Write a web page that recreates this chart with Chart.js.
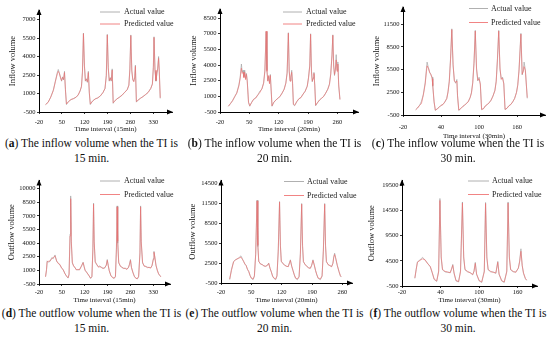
<!DOCTYPE html>
<html><head><meta charset="utf-8">
<script src="https://cdn.jsdelivr.net/npm/chart.js@4.4.1/dist/chart.umd.min.js"></script>
<style>
html,body{margin:0;padding:0;background:#fff;}
body{width:550px;height:340px;position:relative;overflow:hidden;font-family:"Liberation Serif","Times New Roman",serif;}
canvas{position:absolute;}
.cap{position:absolute;font-size:11.5px;line-height:15px;text-align:center;white-space:nowrap;color:#111;}
</style></head><body>
<canvas id="ca" width="183" height="135" style="left:0px;top:0px"></canvas>
<canvas id="cb" width="183" height="135" style="left:183px;top:0px"></canvas>
<canvas id="cc" width="184" height="141" style="left:366px;top:0px"></canvas>
<canvas id="cd" width="183" height="130" style="left:0px;top:175px"></canvas>
<canvas id="ce" width="183" height="130" style="left:183px;top:175px"></canvas>
<canvas id="cf" width="184" height="130" style="left:366px;top:175px"></canvas>
<div class="cap" style="left:0px;top:136px;width:183px">(<b>a</b>) The inflow volume when the TI is<br>15 min.</div>
<div class="cap" style="left:183px;top:136px;width:183px">(<b>b</b>) The inflow volume when the TI is<br>20 min.</div>
<div class="cap" style="left:366px;top:136px;width:184px">(<b>c</b>) The inflow volume when the TI is<br>30 min.</div>
<div class="cap" style="left:0px;top:306px;width:183px">(<b>d</b>) The outflow volume when the TI is<br>15 min.</div>
<div class="cap" style="left:183px;top:306px;width:183px">(<b>e</b>) The outflow volume when the TI is<br>20 min.</div>
<div class="cap" style="left:366px;top:306px;width:184px">(<b>f</b>) The outflow volume when the TI is<br>30 min.</div>
<script>
const SERIES_NAMES = ['Actual value', 'Predicted value'];

// (a) inflow, 15 min
const tA = [0,8,16,24,30,36,39,42,46,49,52,55,58,61,64,70,78,86,94,100,106,110,113,116,119,122,125,128,131,134,137,144,152,160,168,176,182,186,189,192,195,198,201,204,207,210,218,226,234,242,250,255,258,261,264,267,270,273,275,278,282,290,298,306,314,322,327,330,332,335,338,341,343,346,348,351];
const actualA = [100,300,700,1300,2000,2700,2950,2700,2300,2000,2350,2100,2800,1200,100,350,500,600,700,900,1200,1600,2800,5900,3200,2000,2200,1900,2800,1000,100,400,550,650,800,1100,1400,2500,5800,3000,2000,2300,2000,3000,200,350,550,700,850,1100,1300,1700,3000,5750,2800,2100,2000,2300,3300,300,450,600,750,900,1100,1400,1800,3200,5600,2800,2000,2700,3000,4000,2800,600];
const predA = [100,280,720,1250,1950,2600,2800,2650,2250,2050,2300,2150,2700,1300,150,330,520,580,720,880,1250,1550,2700,5850,3300,2050,2150,1950,2700,1100,150,380,570,640,820,1080,1420,2450,5750,3100,2050,2250,2050,2900,250,330,560,690,870,1080,1320,1650,2900,5700,2900,2150,1950,2350,3200,350,430,610,740,920,1080,1420,1750,3100,5550,2900,2050,2650,2900,3850,2900,650];

// (b) inflow, 20 min
const tB = [0,5,10,15,20,25,28,31,33,35,37,39,41,43,45,48,51,55,60,65,70,75,80,84,87,90,92,94,96,98,100,102,104,108,113,118,123,128,133,137,140,143,145,147,149,151,153,155,158,163,168,173,178,183,188,191,194,196,198,200,202,204,206,208,212,217,222,227,232,237,241,244,247,249,251,253,255,257,259,261,263,266];
const actualB = [50,300,600,950,1350,2100,2800,4100,3300,3500,2900,3500,2700,3200,2500,400,50,400,700,850,1100,1500,1700,2300,3500,7200,3500,2500,2900,2300,3100,1500,50,400,650,800,1000,1300,1700,2300,3300,7100,3500,2500,2800,3500,2300,200,100,500,750,900,1200,1500,2000,2800,4000,7000,3500,2400,2800,3300,2100,100,350,650,800,1000,1300,1700,2200,3200,5000,6900,4000,3000,3600,5000,3500,4300,2000,700];
const predB = [50,320,580,980,1300,2000,2700,3700,3200,3300,2800,3300,2600,3100,2400,450,100,380,720,830,1150,1350,1750,2250,3400,7250,3400,2450,3000,2200,3000,1600,100,420,630,820,980,1320,1680,2250,3200,7050,3400,2450,2900,3300,2200,250,150,480,770,880,1220,1480,1950,2750,3900,6950,3400,2450,2700,3200,2000,150,380,630,820,980,1320,1680,2150,3100,4900,6850,3900,3100,3500,4500,3400,4100,2100,700];

// (c) inflow, 30 min
const tC = [0,3,6,9,12,15,17,18,20,22,24,26,27,29,31,34,37,40,43,46,49,51,53,55,57,59,61,63,65,66,68,71,74,77,80,83,86,88,90,92,94,96,98,100,102,104,107,110,113,116,119,122,125,127,129,131,133,135,137,139,141,144,147,150,153,156,159,161,163,166,168,170,171,173,176];
const actualC = [200,450,750,1300,2200,3800,5600,6500,5800,5200,4800,4500,3300,1200,100,300,550,750,900,1200,1700,2600,4000,7000,10900,6000,4100,3700,4200,2000,100,350,600,800,1000,1300,1800,2500,3800,6500,10700,5500,4000,4500,3500,200,350,700,900,1100,1500,2000,2800,4000,7000,10700,5500,4300,4500,3700,200,400,700,900,1200,1700,2500,3500,5500,10300,4800,5500,6500,5500,1700];
const predC = [200,420,780,1000,2100,3600,5300,6000,5700,5100,4900,4300,3400,1300,150,320,520,780,880,1250,1650,2500,3900,6800,10800,6200,4000,3800,4000,2100,150,330,620,780,1050,1250,1850,2400,3700,6300,10600,5700,4100,4300,3600,250,330,720,880,1150,1450,2050,2700,3900,6800,10600,5700,4200,4400,3600,250,380,720,880,1250,1650,2450,3400,5300,10200,4900,5300,5900,5400,1800];

// (d) outflow, 15 min
const tD = [0,3,5,9,14,19,24,29,34,39,44,49,54,59,64,69,72,75,77,79,82,86,90,94,99,104,110,115,118,121,127,132,138,142,145,147,149,152,157,162,166,171,176,181,186,189,192,195,200,205,210,214,217,219,221,224,229,234,239,244,249,254,257,260,263,267,272,277,281,285,289,291,293,297,302,307,312,317,322,326,330,332,335,338,342,346,350,353];
const actualD = [300,1000,2050,1900,2000,2400,2300,2700,2000,1800,1600,1300,1050,700,350,150,500,5000,9200,4000,1800,1500,1300,1100,1050,1100,1450,1900,1400,1050,700,500,100,300,3500,8400,4000,2000,1600,1400,1500,1300,1250,1250,1600,2200,1500,1000,400,250,100,300,3500,8100,4000,1800,1500,1300,1250,1200,1150,1300,1700,2200,1300,850,300,150,50,300,3000,8100,4000,1800,1500,1400,1350,1300,1300,1500,2300,3100,2300,1600,1000,650,400,300];
const predD = [300,1100,1950,2000,2050,2300,2400,2600,2050,1750,1650,1250,1100,650,400,200,600,4800,8900,4200,1900,1450,1350,1050,1100,1050,1500,1850,1450,1000,750,450,150,350,3300,8300,4200,1900,1650,1350,1400,1350,1200,1300,1550,2100,1550,950,450,200,150,350,3300,8000,4200,1900,1450,1350,1200,1250,1100,1350,1650,2100,1350,800,350,100,100,350,2800,8000,4200,1900,1450,1450,1300,1350,1250,1550,2200,3000,2400,1550,1050,600,450,300];

// (e) outflow, 20 min
const tE = [0,4,9,13,17,21,26,29,32,35,38,41,44,47,50,54,57,60,63,65,67,71,75,79,83,87,90,93,96,99,102,106,109,112,115,117,119,123,127,131,135,138,140,143,146,149,152,156,160,163,166,168,170,174,178,182,186,189,192,195,198,201,204,209,213,216,219,221,223,227,231,235,238,240,242,244,248,252,255,257];
const actualE = [0,1500,2750,3000,3100,3300,3600,3200,2750,2400,2100,1600,1200,600,200,0,500,4000,12000,5000,2750,2400,2250,2100,2000,2200,2500,1700,1200,500,200,0,500,4500,11800,5000,2800,2400,2200,2000,2000,2600,3000,2000,1400,700,200,0,400,4000,11500,5000,2700,2300,2000,1800,1700,2200,3000,2200,1400,700,200,0,500,4500,11500,5000,2700,2300,2100,2000,2500,3500,4000,3300,2200,1200,600,400];
const predE = [100,1400,2700,2950,3150,3250,3400,3100,2800,2350,2150,1550,1250,650,250,100,600,3800,11900,5200,2800,2350,2300,2050,2050,2150,2450,1750,1150,550,250,100,600,4300,11700,5200,2750,2450,2150,2050,1950,2550,2900,2050,1350,750,250,100,500,3800,11400,5200,2750,2250,2050,1750,1750,2150,2900,2250,1350,750,250,100,600,4300,11400,5200,2750,2250,2150,1950,2450,3400,3800,3400,2150,1250,650,450];

// (f) outflow, 30 min
const tF = [0,2,4,8,12,16,20,24,27,30,34,37,39,41,43,47,51,55,57,59,61,64,68,71,74,76,78,82,86,90,92,94,96,100,104,108,110,112,114,118,122,126,129,131,135,139,143,145,147,149,153,157,161,163,165,167,169,172,174];
const actualF = [1000,2800,4300,4700,5200,4600,4000,3300,2100,800,400,2500,16900,5000,2700,2300,2200,2200,2800,3800,2000,500,300,2500,16200,5000,2700,2300,2200,1700,2500,4200,1800,500,200,2500,16100,5000,2700,2300,2300,2000,4400,1800,500,200,2500,16200,5000,2700,2300,2300,3000,4500,6900,3500,2000,900,600];
const predF = [1100,2700,4200,4600,4900,4700,3900,3400,2200,900,500,2300,16500,5300,2800,2400,2300,2100,2900,3600,2100,600,400,2300,16000,5300,2800,2400,2100,1800,2400,4000,1900,600,300,2300,15900,5300,2800,2400,2200,2100,4200,1900,600,300,2300,16000,5300,2800,2400,2200,3100,4300,6400,3600,2100,1000,700];

// tick labels
const xTicks15 = [-20,50,120,190,260,330];
const xTicks20 = [-20,50,120,190,260];
const xTicks30 = [-20,40,100,160];
const yTicksA = [-500,1000,2500,4000,5500,7000];
const yTicksB = [-500,1000,2500,4000,5500,7000,8500];
const yTicksC = [-500,2500,5500,8500,11500];
const yTicksD = [-500,1000,2500,4000,5500,7000,8500,10000];
const yTicksE = [-500,2500,5500,8500,11500,14500];
const yTicksF = [-500,4500,9500,14500,19500];

const FONT = "'Liberation Serif', 'Times New Roman', serif";
const ACT_COLOR = 'rgba(150,150,150,0.75)';
const PRED_COLOR = 'rgba(238,110,110,0.85)';

const decor = {
  id: 'decor',
  afterDraw(chart, args, o) {
    const ctx = chart.ctx, a = chart.chartArea;
    ctx.save();
    ctx.fillStyle = '#000';
    ctx.beginPath();
    ctx.moveTo(a.left, a.top - 1); ctx.lineTo(a.left - 2.5, a.top + 5); ctx.lineTo(a.left + 2.5, a.top + 5);
    ctx.closePath(); ctx.fill();
    ctx.beginPath();
    ctx.moveTo(a.right + 1, a.bottom); ctx.lineTo(a.right - 5, a.bottom - 2.5); ctx.lineTo(a.right - 5, a.bottom + 2.5);
    ctx.closePath(); ctx.fill();
    ctx.font = '8px ' + FONT;
    ctx.textBaseline = 'middle';
    ctx.textAlign = 'left';
    chart.data.datasets.forEach((ds, i) => {
      const y = o.ys[i];
      ctx.strokeStyle = ds.borderColor; ctx.lineWidth = 1;
      ctx.beginPath(); ctx.moveTo(o.x0, y); ctx.lineTo(o.x1, y); ctx.stroke();
      ctx.fillStyle = '#222';
      ctx.fillText(ds.label, o.tx, y);
    });
    ctx.restore();
  }
};

function build(id, p) {
  const mk = vals => p.t.map((t, i) => ({x: t, y: vals[i]}));
  new Chart(document.getElementById(id), {
    type: 'line',
    data: {datasets: [
      {label: SERIES_NAMES[0], data: mk(p.actual), borderColor: ACT_COLOR, borderWidth: 0.75, pointRadius: 0, tension: 0, order: 1},
      {label: SERIES_NAMES[1], data: mk(p.pred), borderColor: PRED_COLOR, borderWidth: 0.75, pointRadius: 0, tension: 0, order: 0}
    ]},
    options: {
      responsive: false, animation: false, devicePixelRatio: 1,
      layout: {padding: {left: 0, top: p.padTop, right: p.padRight, bottom: 0}},
      plugins: {legend: {display: false}, tooltip: {enabled: false}, decor: p.legend},
      scales: {
        x: {
          type: 'linear', min: p.xMin, max: p.xMax,
          afterBuildTicks: s => { s.ticks = p.xTicks.map(v => ({value: v})); },
          afterFit: s => { s.height = p.xH; },
          ticks: {font: {family: FONT, size: 6.5}, color: '#111', padding: p.xTickPad, maxRotation: 0, autoSkip: false, callback: v => String(v)},
          grid: {display: true, drawOnChartArea: false, drawTicks: true, tickLength: 2, color: '#000', lineWidth: 0.8},
          border: {display: true, color: '#000', width: 1},
          title: {display: true, text: p.xTitle, font: {family: FONT, size: 7}, color: '#111', padding: {top: 0, bottom: p.xTitlePad}}
        },
        y: {
          type: 'linear', min: -500, max: p.yMax,
          afterBuildTicks: s => { s.ticks = p.yTicks.map(v => ({value: v})); },
          afterFit: s => { s.width = p.yW; },
          ticks: {font: {family: FONT, size: 6.5}, color: '#111', padding: 1.5, autoSkip: false, callback: v => String(v)},
          grid: {display: true, drawOnChartArea: false, drawTicks: true, tickLength: 2, color: '#000', lineWidth: 0.8},
          border: {display: true, color: '#000', width: 1},
          title: {display: true, text: p.yTitle, font: {family: FONT, size: 8.5}, color: '#111', padding: {top: p.yTitlePad, bottom: 0}}
        }
      }
    },
    plugins: [decor]
  });
}

build('ca', {t: tA, actual: actualA, pred: predA, xTicks: xTicks15, yTicks: yTicksA, xMin: -20, xMax: 387, yMax: 7772,
  padTop: 10, padRight: 11, yW: 39, xH: 23, xTickPad: 4, xTitlePad: 1.5, yTitlePad: 8,
  yTitle: 'Inflow volume', xTitle: 'Time interval (15min)', legend: {x0: 100, x1: 120, tx: 124, ys: [12, 24]}});
build('cb', {t: tB, actual: actualB, pred: predB, xTicks: xTicks20, yTicks: yTicksB, xMin: -20, xMax: 309, yMax: 9375,
  padTop: 9, padRight: 8, yW: 37, xH: 23, xTickPad: 4, xTitlePad: 1.5, yTitlePad: 5.5,
  yTitle: 'Inflow volume', xTitle: 'Time interval (20min)', legend: {x0: 100, x1: 119, tx: 123, ys: [12, 24]}});
build('cc', {t: tC, actual: actualC, pred: predC, xTicks: xTicks30, yTicks: yTicksC, xMin: -20, xMax: 204, yMax: 13786,
  padTop: 7, padRight: 5, yW: 37, xH: 26, xTickPad: 6, xTitlePad: 0.5, yTitlePad: 6,
  yTitle: 'Inflow volume', xTitle: 'Time interval (30min)', legend: {x0: 103, x1: 122, tx: 125, ys: [8.5, 22.5]}});
build('cd', {t: tD, actual: actualD, pred: predD, xTicks: xTicks15, yTicks: yTicksD, xMin: -20, xMax: 381, yMax: 10911,
  padTop: 5, padRight: 13, yW: 39, xH: 21, xTickPad: 2, xTitlePad: 0.8, yTitlePad: 7,
  yTitle: 'Outflow volume', xTitle: 'Time interval (15min)', legend: {x0: 100, x1: 120, tx: 124, ys: [6, 19.5]}});
build('ce', {t: tE, actual: actualE, pred: predE, xTicks: xTicks20, yTicks: yTicksE, xMin: -20, xMax: 282, yMax: 14987,
  padTop: 5, padRight: 14, yW: 38, xH: 22, xTickPad: 3, xTitlePad: 0.8, yTitlePad: 5,
  yTitle: 'Outflow volume', xTitle: 'Time interval (20min)', legend: {x0: 101, x1: 121, tx: 124, ys: [6.5, 20.5]}});
build('cf', {t: tF, actual: actualF, pred: predF, xTicks: xTicks30, yTicks: yTicksF, xMin: -20, xMax: 190, yMax: 20490,
  padTop: 5, padRight: 13, yW: 36, xH: 19, xTickPad: 0.5, xTitlePad: 0.8, yTitlePad: 1,
  yTitle: 'Outflow volume', xTitle: 'Time interval (30min)', legend: {x0: 102, x1: 123, tx: 126, ys: [6, 19.5]}});
</script>
</body></html>
